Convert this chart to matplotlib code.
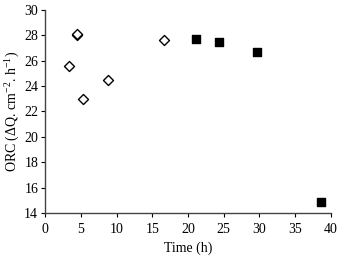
import matplotlib
matplotlib.use("Agg")
import matplotlib.pyplot as plt

plt.rcParams['font.family'] = ['Liberation Serif', 'DejaVu Serif']
plt.rcParams['mathtext.fontset'] = 'custom'
plt.rcParams['mathtext.rm'] = 'Liberation Serif'

# open diamonds
diamond_time = [3.3, 4.4, 4.5, 5.3, 8.8, 16.6]
diamond_orc = [25.6, 28.05, 28.1, 23.0, 24.5, 27.6]

# filled squares
square_time = [21.1, 24.4, 29.6, 38.6]
square_orc = [27.7, 27.45, 26.65, 14.85]

x_ticks = [0, 5, 10, 15, 20, 25, 30, 35, 40]
y_ticks = [14, 16, 18, 20, 22, 24, 26, 28, 30]

fig = plt.figure(figsize=(3.39, 2.60), dpi=100)
ax = fig.add_axes([0.133, 0.181, 0.843, 0.781])

ax.scatter(diamond_time, diamond_orc, marker='D', s=26, facecolors='white',
           edgecolors='black', linewidths=1.0, zorder=3)
ax.scatter(square_time, square_orc, marker='s', s=32, color='black', zorder=3)

ax.set_xlim(0, 40)
ax.set_ylim(14, 30)
ax.set_xticks(x_ticks)
ax.set_yticks(y_ticks)
ax.tick_params(labelsize=10, length=3, width=0.8, direction='out', pad=2)
ax.tick_params(axis='x', pad=4)

for side in ['top', 'right']:
    ax.spines[side].set_visible(False)
for side in ['left', 'bottom']:
    ax.spines[side].set_color('#444444')
    ax.spines[side].set_linewidth(1.0)

ax.set_xlabel('Time (h)', fontsize=10, labelpad=4)
ax.set_ylabel(r'ORC ($\Delta$Q. cm$^{-2}$. h$^{-1}$)', fontsize=10, labelpad=2)

fig.savefig('out.png', dpi=100, facecolor='white')
